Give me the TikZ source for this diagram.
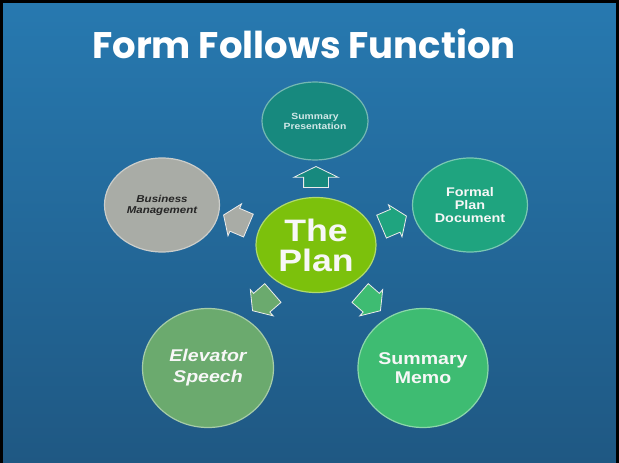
\documentclass[tikz,border=0pt]{standalone}
\usepackage{fontspec}
\newfontfamily\headfont{Poppins}
\newfontfamily\bubblefont{Liberation Sans}[FakeStretch=1.15]
\usetikzlibrary{shapes.geometric,shapes.arrows,positioning}

\definecolor{bgtop}{HTML}{2779B0}
\definecolor{bgbot}{HTML}{1F5883}
\definecolor{presteal}{HTML}{17897E}
\definecolor{planlime}{HTML}{7CC10C}
\definecolor{bizgray}{HTML}{A9ACA6}
\definecolor{formalgreen}{HTML}{1FA47F}
\definecolor{elevsage}{HTML}{6BAA6E}
\definecolor{memogreen}{HTML}{3EBC72}

\tikzset{
	bubble/.style={ellipse, draw=#1!60!white, fill=#1, line width=1.2pt,
		inner sep=0pt, align=center, text=white!94!gray},
	outarrow/.style={single arrow, draw=white!85!gray, fill=#1, line width=0.8pt,
		inner xsep=0pt, inner ysep=12pt, minimum height=27pt,
		single arrow head extend=5pt, single arrow tip angle=110},
}

\begin{document}
\begin{tikzpicture}[x=1pt, y=-1pt]
	\useasboundingbox (0,0) rectangle (619,463);
	
	%% -- Background and frame
	\shade[top color=bgtop, bottom color=bgbot] (0,0) rectangle (619,463);
	\draw[line width=3pt] (1.5,463) -- (1.5,1.5) -- (617,1.5) -- (617,463);
	
	%% -- Title
	\node[anchor=base, text=white, font=\headfont\bfseries\fontsize{37}{40}\selectfont]
	(title) at (304,58) {Form Follows Function};
	
	%% -- Centre bubble
	\node[bubble=planlime, minimum width=120pt, minimum height=95pt,
	font=\bubblefont\bfseries\fontsize{31}{30}\selectfont] (plan) at (316,245)
	{The\\Plan};
	
	%% -- Outer bubbles
	\node[bubble=presteal, minimum width=106pt, minimum height=78pt,
	text=white!82!teal, font=\bubblefont\bfseries\fontsize{9}{10}\selectfont]
	(pres) at (315,121) {Summary\\Presentation};
	
	\node[bubble=bizgray, minimum width=115pt, minimum height=94pt,
	text=black!85, font=\bubblefont\bfseries\itshape\fontsize{10}{11}\selectfont]
	(biz) at (162,205) {Business\\Management};
	
	\node[bubble=formalgreen, minimum width=115pt, minimum height=94pt,
	font=\bubblefont\bfseries\fontsize{12.5}{13}\selectfont]
	(formal) at (470,205) {Formal\\Plan\\Document};
	
	\node[bubble=elevsage, minimum width=131pt, minimum height=119pt,
	font=\bubblefont\bfseries\itshape\fontsize{17}{21}\selectfont]
	(elev) at (208,368) {Elevator\\Speech};
	
	\node[bubble=memogreen, minimum width=130pt, minimum height=119pt,
	font=\bubblefont\bfseries\fontsize{17}{19}\selectfont]
	(memo) at (423,368) {Summary\\Memo};
	
	%% -- Block arrows pointing outward
	\node[outarrow=presteal, rotate=90, minimum height=21pt, inner ysep=12pt,
	single arrow head extend=9.5pt, single arrow tip angle=128] (apres) at (316,180) {};
	\node[outarrow=bizgray, rotate=157] (abiz) at (240,222) {};
	\node[outarrow=formalgreen, rotate=23] (aformal) at (390,223) {};
	\node[outarrow=elevsage, rotate=221] (aelev) at (266,299) {};
	\node[outarrow=memogreen, rotate=319] (amemo) at (367,299) {};
	
\end{tikzpicture}
\end{document}
